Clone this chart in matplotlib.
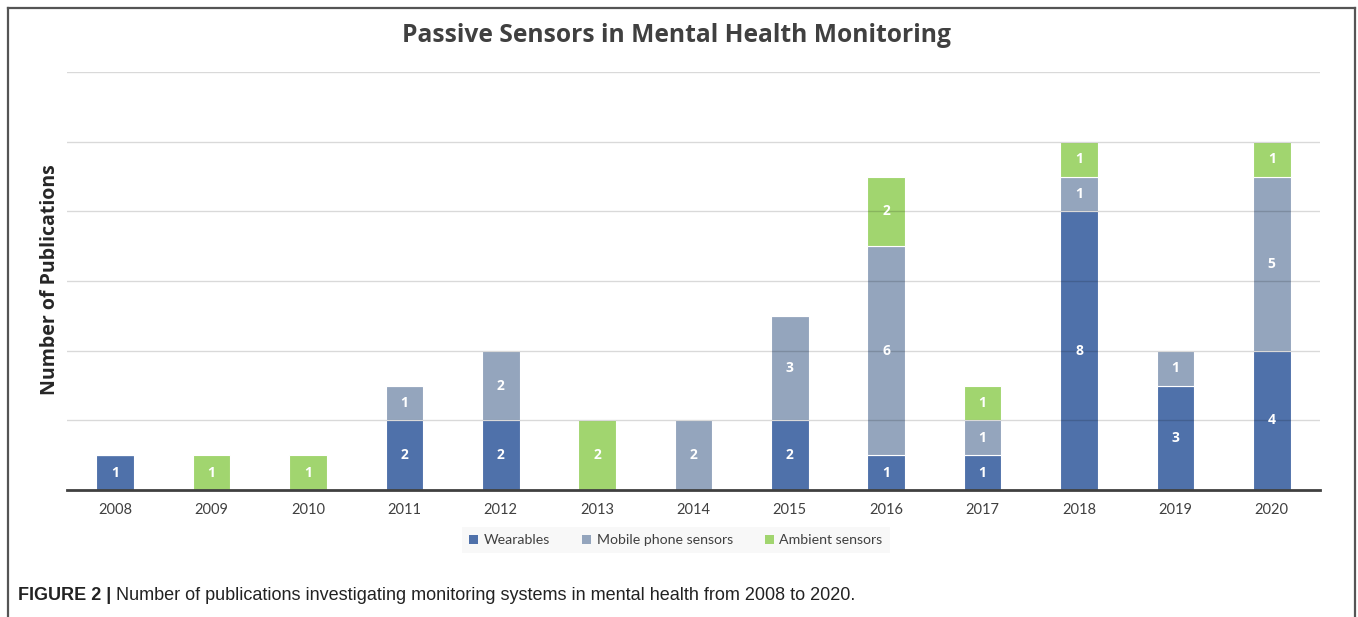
import matplotlib
matplotlib.use("Agg")
import matplotlib.pyplot as plt
from matplotlib.lines import Line2D
from matplotlib.patches import Patch
import numpy as np

years = ["2008", "2009", "2010", "2011", "2012", "2013", "2014",
         "2015", "2016", "2017", "2018", "2019", "2020"]
wearables = [1, 0, 0, 2, 2, 0, 0, 2, 1, 1, 8, 3, 4]
mobile = [0, 0, 0, 1, 2, 0, 2, 3, 6, 1, 1, 1, 5]
ambient = [0, 1, 1, 0, 0, 2, 0, 0, 2, 1, 1, 0, 1]
series_names = ["Wearables", "Mobile phone sensors", "Ambient sensors"]
colors = ["#4F71AA", "#94A5BD", "#A1D56F"]

W, H = 1358, 617
fig = plt.figure(figsize=(W / 100, H / 100), dpi=100)
fig.patch.set_facecolor("white")

ax = fig.add_axes([67 / W, 1 - 490 / H, (1320 - 67) / W, (490 - 72) / H])
x = np.arange(len(years))
bw = 0.39
bottom = np.zeros(len(years))
for vals, col in zip([wearables, mobile, ambient], colors):
    vals = np.array(vals, dtype=float)
    ax.bar(x, vals, bw, bottom=bottom, color=col, edgecolor="white",
           linewidth=0.8, zorder=2)
    for xi, v, b in zip(x, vals, bottom):
        if v > 0:
            ax.text(xi, b + v / 2, f"{int(v)}", ha="center", va="center",
                    color="white", fontsize=10, fontweight="bold",
                    family="Open Sans", zorder=4)
    bottom += vals

ax.set_xlim(-0.5, len(years) - 0.5)
ax.set_ylim(0, 12)
for gy in range(2, 13, 2):
    ax.axhline(gy, color="black", alpha=0.15, linewidth=1.0, zorder=3)
ax.set_yticks([])
ax.set_xticks(x)
ax.set_xticklabels(years, family="Lato", fontsize=10.5, color="#404040")
ax.tick_params(axis="x", length=0, pad=9)
for s in ["top", "right", "left"]:
    ax.spines[s].set_visible(False)
ax.spines["bottom"].set_color("#404040")
ax.spines["bottom"].set_linewidth(2)
ax.spines["bottom"].set_zorder(5)

fig.text(50 / W, 1 - 280 / H, "Number of Publications", rotation=90,
         ha="center", va="center", family="Open Sans", fontweight="bold",
         fontsize=14, color="#262626")

fig.text(676 / W, 1 - 35 / H, "Passive Sensors in Mental Health Monitoring",
         ha="center", va="center", family="Open Sans", fontweight="bold",
         fontsize=17.7, color="#404040")

handles = [Patch(facecolor=c, edgecolor="none") for c in colors]
leg = fig.legend(handles, series_names, loc="center",
                 bbox_to_anchor=(676 / W, 1 - 540 / H), ncol=3, frameon=True,
                 prop={"family": "Lato", "size": 10.2}, handlelength=0.6,
                 handleheight=0.6, handletextpad=0.4, columnspacing=2.3,
                 borderpad=0.5, fancybox=False)
leg.get_frame().set_facecolor("#F7F7F7")
leg.get_frame().set_edgecolor("none")
for t in leg.get_texts():
    t.set_color("#404040")

cap1 = fig.text(18 / W, 1 - 596 / H, "FIGURE 2 |", ha="left", va="center",
                family="Liberation Sans", fontweight="bold", fontsize=13,
                color="#222222")
fig.canvas.draw()
r = fig.canvas.get_renderer()
bb = cap1.get_window_extent(r)
fig.text((bb.x1 + 5) / W, 1 - 596 / H,
         "Number of publications investigating monitoring systems in mental health from 2008 to 2020.",
         ha="left", va="center", family="Liberation Sans", fontsize=13,
         color="#222222")

# frame around figure
fc = "#555555"
fig.add_artist(Line2D([8 / W, 1355 / W], [1 - 8 / H, 1 - 8 / H],
                      transform=fig.transFigure, color=fc, linewidth=1.6))
fig.add_artist(Line2D([8 / W, 8 / W], [1 - 8 / H, 0],
                      transform=fig.transFigure, color=fc, linewidth=1.6))
fig.add_artist(Line2D([1355 / W, 1355 / W], [1 - 8 / H, 0],
                      transform=fig.transFigure, color=fc, linewidth=1.6))

fig.savefig("out.png", dpi=100)
